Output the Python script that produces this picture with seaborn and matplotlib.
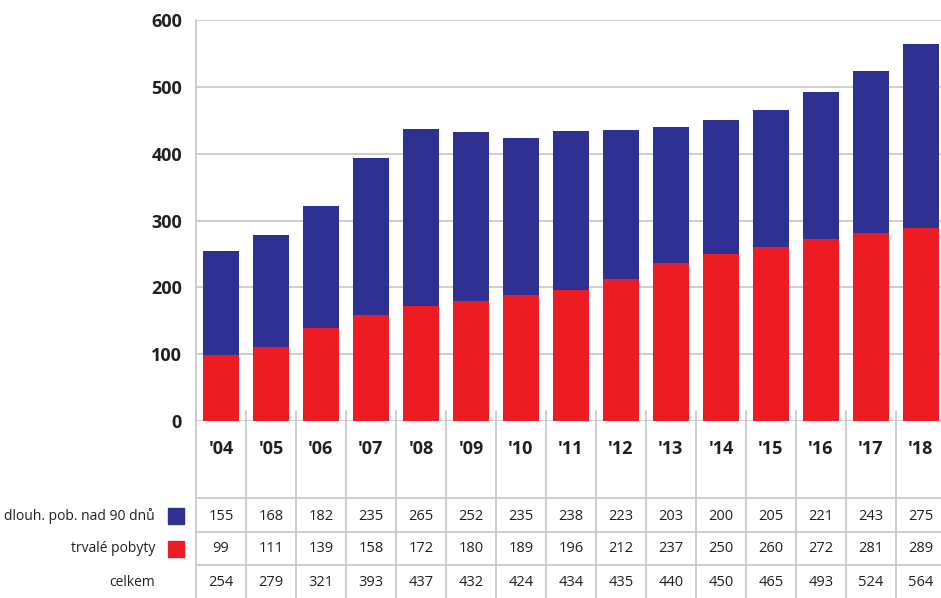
import pandas as pd
import seaborn as sns
import matplotlib.pyplot as plt
from matplotlib.patches import Rectangle

# data
years = ["'04", "'05", "'06", "'07", "'08", "'09", "'10", "'11", "'12", "'13", "'14", "'15", "'16", "'17", "'18"]
dlouh = [155, 168, 182, 235, 265, 252, 235, 238, 223, 203, 200, 205, 221, 243, 275]
trvale = [99, 111, 139, 158, 172, 180, 189, 196, 212, 237, 250, 260, 272, 281, 289]
celkem = [254, 279, 321, 393, 437, 432, 424, 434, 435, 440, 450, 465, 493, 524, 564]
row_labels = ["dlouh. pob. nad 90 dnů", "trvalé pobyty", "celkem"]

BLUE = "#2e3192"
RED = "#ed1c24"
GRID = "#c6c6c6"
TXT = "#231f20"

df = pd.DataFrame({"rok": years, "dlouh": dlouh, "trvale": trvale, "celkem": celkem})

sns.set_style("white")
plt.rcParams["font.family"] = ["Open Sans", "DejaVu Sans"]

W, H = 941, 598
fig = plt.figure(figsize=(W / 100, H / 100), dpi=100)

def px(x0, y0, x1, y1):
    return [x0 / W, 1 - y1 / H, (x1 - x0) / W, (y1 - y0) / H]

XL = (-0.5, 14.4)  # last column is cut by the image edge

ax = fig.add_axes(px(196, 20, 941, 421))
# stacked: total first (blue), red on top of it from zero
sns.barplot(data=df, x="rok", y="celkem", color=BLUE, width=0.735, saturation=1, linewidth=0, ax=ax, zorder=3)
sns.barplot(data=df, x="rok", y="trvale", color=RED, width=0.735, saturation=1, linewidth=0, ax=ax, zorder=3)
ax.set_xlim(*XL)
ax.set_ylim(0, 600)
ax.set_yticks(range(0, 601, 100))
ax.set_yticklabels([str(v) for v in range(0, 601, 100)], fontsize=13, fontweight="bold", color=TXT)
ax.tick_params(axis="y", length=0, pad=10)
ax.set_xticks([])
ax.set_xlabel("")
ax.set_ylabel("")
ax.grid(axis="y", color=GRID, linewidth=1.2, zorder=0)
for s in ["top", "right", "bottom"]:
    ax.spines[s].set_visible(False)
ax.spines["left"].set_color(GRID)
ax.spines["left"].set_linewidth(1.2)

# table below the bars
tax = fig.add_axes(px(196, 411, 941, 598))
tax.set_xlim(*XL)
tax.set_ylim(187, 0)
tax.axis("off")
for i in range(16):
    tax.plot([i - 0.5, i - 0.5], [0, 187], color=GRID, lw=1.2, clip_on=False)
for y in [87, 121, 154]:
    tax.plot([-0.5, 14.5], [y, y], color=GRID, lw=1.2)

for i, yr in enumerate(years):
    tax.text(i, 38, yr, ha="center", va="center", fontsize=13, fontweight="bold", color=TXT)
    tax.text(i, 105, str(dlouh[i]), ha="center", va="center", fontsize=10.5, color=TXT)
    tax.text(i, 138, str(trvale[i]), ha="center", va="center", fontsize=10.5, color=TXT)
    tax.text(i, 171, str(celkem[i]), ha="center", va="center", fontsize=10.5, color=TXT)

# row labels and legend squares
for lab, yc in zip(row_labels, [516, 549, 582]):
    fig.text(155 / W, 1 - yc / H, lab, ha="right", va="center", fontsize=10, color=TXT)
fig.patches.append(Rectangle((168 / W, 1 - 524 / H), 16 / W, 16 / H, color=BLUE, transform=fig.transFigure, figure=fig))
fig.patches.append(Rectangle((168 / W, 1 - 557 / H), 16 / W, 16 / H, color=RED, transform=fig.transFigure, figure=fig))

fig.savefig("out.png", dpi=100)
